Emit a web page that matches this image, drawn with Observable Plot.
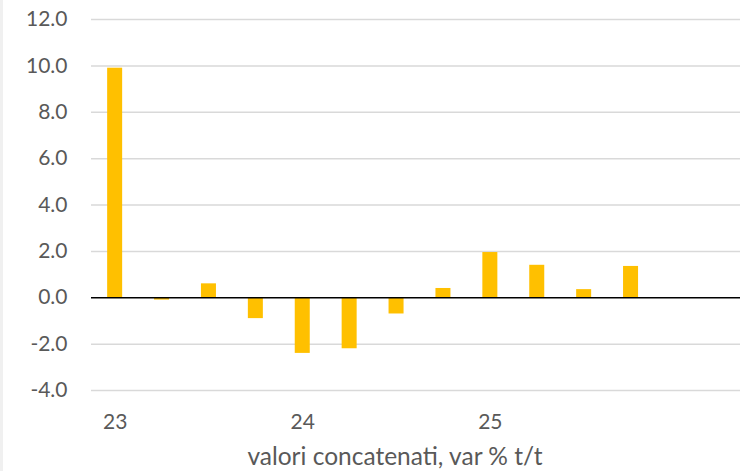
<!DOCTYPE html>
<html>
<head>
<meta charset="utf-8">
<script src="https://cdn.jsdelivr.net/npm/d3@7"></script>
<script src="https://cdn.jsdelivr.net/npm/@observablehq/plot@0.6"></script>
<style>
  html, body { margin: 0; padding: 0; background: #fff; overflow: hidden; }
  #chart { width: 740px; height: 471px; position: relative; }
  #edge { position: absolute; left: 0; top: 0; width: 3px; height: 471px; background: #f0f0f0; }
</style>
</head>
<body>
<div id="chart"><div id="edge"></div></div>
<script>
// Quarterly categories (2023 Q1 .. 2026 Q2)
const quarters = ["23T1","23T2","23T3","23T4","24T1","24T2","24T3","24T4","25T1","25T2","25T3","25T4","26T1","26T2"];
const values = [9.9, -0.1, 0.6, -0.9, -2.4, -2.2, -0.7, 0.4, 1.95, 1.4, 0.35, 1.35];
const yearTicks = ["23T1","24T1","25T1"];
const yearLabels = ["23","24","25"];
const yTicks = [-4, -2, 0, 2, 4, 6, 8, 10, 12];
const axisTitle = "valori concatenati, var % t/t";

const data = values.map((v, i) => ({q: quarters[i], v}));
const labelOf = new Map(yearTicks.map((t, i) => [t, yearLabels[i]]));

const font = "Lato, 'Open Sans', sans-serif";

const chart = Plot.plot({
  width: 740,
  height: 471,
  marginLeft: 91,
  marginRight: 0,
  marginTop: 19,
  marginBottom: 81,
  style: {fontFamily: font, background: "transparent", overflow: "visible"},
  x: {domain: quarters, range: [91.2, 91.2 + 46.9 * 14], paddingInner: 0.68, paddingOuter: 0.34, align: 0.5, round: false},
  y: {domain: [-4, 12]},
  marks: [
    Plot.ruleY(yTicks.filter(d => d !== 0), {stroke: "#d9d9d9", strokeWidth: 1.5}),
    Plot.barY(data, {x: "q", y: "v", fill: "#FFC000"}),
    Plot.ruleY([0], {stroke: "#000", strokeWidth: 1.5}),
    Plot.axisY({ticks: yTicks, tickFormat: d => d.toFixed(1), tickSize: 0, tickPadding: 24,
      fontSize: 21, fill: "#595959", label: null}),
    Plot.axisX({ticks: yearTicks, tickFormat: d => labelOf.get(d), tickSize: 0, tickPadding: 24,
      fontSize: 21, fill: "#595959", label: null}),
    Plot.text([axisTitle], {frameAnchor: "bottom", dx: -21, dy: 74,
      fontSize: 24.5, fill: "#595959", textAnchor: "middle"})
  ]
});
document.getElementById("chart").appendChild(chart);
</script>
</body>
</html>
